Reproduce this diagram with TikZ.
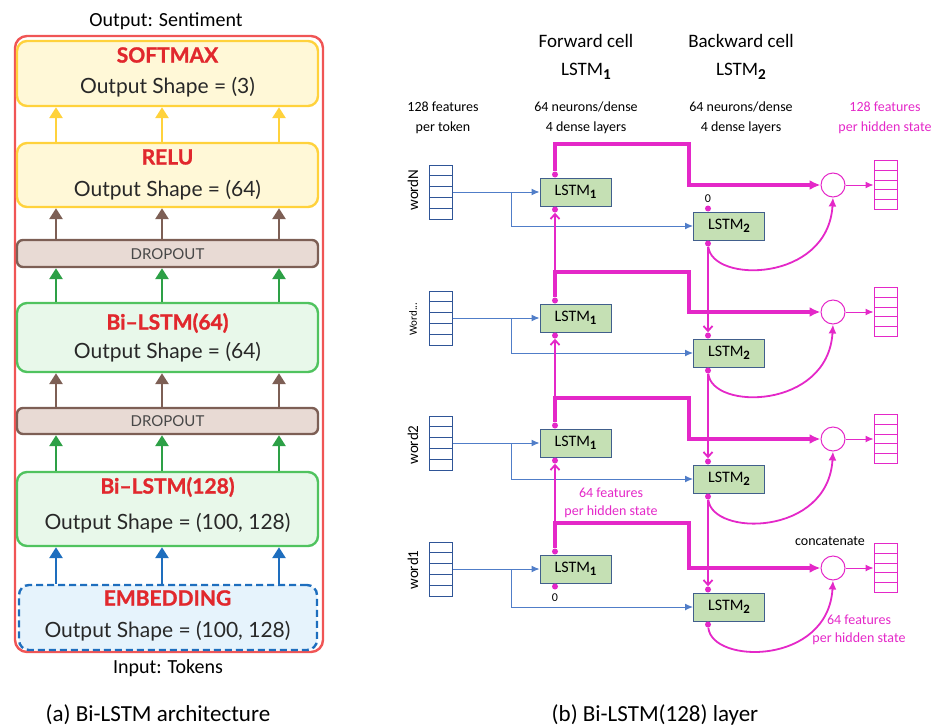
\documentclass[tikz,border=0pt]{standalone}
\usepackage{fontspec}
\setmainfont{Carlito}
\newfontfamily\lpfont{Lato}
\newfontfamily\lphd{Lato}[BoldFeatures={FakeBold=1.2}]
\usetikzlibrary{arrows.meta,calc}
\definecolor{mag}{RGB}{228,40,200}
\definecolor{lblue}{RGB}{80,125,200}
\definecolor{dblue}{RGB}{47,85,151}
\definecolor{lfill}{RGB}{197,224,180}
\definecolor{lborder}{RGB}{65,95,140}
\definecolor{outred}{RGB}{240,85,85}
\definecolor{hred}{RGB}{225,40,45}
\definecolor{ybord}{RGB}{255,210,60}
\definecolor{yfill}{RGB}{255,248,215}
\definecolor{bbord}{RGB}{125,95,85}
\definecolor{bfill}{RGB}{232,218,212}
\definecolor{gbord}{RGB}{80,195,95}
\definecolor{gfill}{RGB}{232,248,234}
\definecolor{garr}{RGB}{45,160,70}
\definecolor{ebord}{RGB}{30,110,190}
\definecolor{efill}{RGB}{230,243,252}
\definecolor{txt}{RGB}{40,40,40}
\newcommand\lsub[1]{\raisebox{-0.4ex}{\scalebox{0.8}{\bfseries #1}}}
\begin{document}
\begin{tikzpicture}[x=1pt,y=-1pt,
  layer/.style={draw, rounded corners=10pt, line width=2.4pt, minimum width=301pt, inner sep=0pt},
  hd/.style={font=\lphd\bfseries\fontsize{21}{24}\selectfont, text=hred, inner sep=0pt},
  osh/.style={font=\lpfont\fontsize{21}{24}\selectfont, text=txt, inner sep=0pt},
  dtxt/.style={font=\lpfont\fontsize{15}{18}\selectfont, text=txt!85, inner sep=0pt},
  larr/.style={line width=2.8pt, -{Triangle[length=11pt,width=13pt]}},
  lstm/.style={draw=lborder, fill=lfill, line width=1pt, minimum width=71pt, minimum height=28pt, inner sep=0pt, font=\fontsize{16}{18}\selectfont},
  vecbox/.style={draw=#1, line width=1pt, inner sep=0pt, minimum width=23pt,
    path picture={\foreach \k in {1,2,3,4}{\draw[#1, line width=1pt] ($(path picture bounding box.north west)!\k/5!(path picture bounding box.south west)$) -- ($(path picture bounding box.north east)!\k/5!(path picture bounding box.south east)$);}}},
  dot/.style={circle, fill=mag, inner sep=0pt, minimum size=6pt},
  blu/.style={lblue, line width=1pt, -{Latex[length=8pt,width=7pt]}},
  thk/.style={mag, line width=3.5pt, -{Latex[length=11pt,width=10pt]}},
  med/.style={mag, line width=1.8pt},
  barb/.style={-{Straight Barb[length=5pt,width=9pt]}},
  thn/.style={mag, line width=1pt, -{Latex[length=8pt,width=7pt]}},
  hdr/.style={align=center, font=\fontsize{19}{28}\selectfont, inner sep=0pt},
  subtxt/.style={align=center, font=\fontsize{14}{20}\selectfont, inner sep=0pt},
  mtxt/.style={align=center, font=\fontsize{14}{18}\selectfont, text=mag, inner sep=0pt},
  captxt/.style={font=\fontsize{23}{26}\selectfont, inner sep=0pt},
  iotxt/.style={font=\fontsize{20}{24}\selectfont, inner sep=0pt}
]
\useasboundingbox (0,0) rectangle (937,728);
% ---------- left panel ----------
\node[draw=outred, line width=2.4pt, rounded corners=12pt, minimum width=308pt, minimum height=616pt, inner sep=0pt] (outer) at (169,344) {};
\node[layer, draw=ybord, fill=yfill, minimum height=65pt] (sm) at (167.5,73.5) {};
\node[layer, draw=ybord, fill=yfill, minimum height=64pt] (relu) at (167.5,175) {};
\node[layer, draw=bbord, fill=bfill, minimum height=27pt, rounded corners=6pt] (dr1) at (167.5,253.5) {};
\node[layer, draw=gbord, fill=gfill, minimum height=69pt] (b64) at (167.5,337.5) {};
\node[layer, draw=bbord, fill=bfill, minimum height=26pt, rounded corners=6pt] (dr2) at (167.5,421) {};
\node[layer, draw=gbord, fill=gfill, minimum height=74pt] (b128) at (167.5,509) {};
\node[layer, draw=ebord, fill=efill, minimum height=65pt, minimum width=298pt, dash pattern=on 7pt off 4pt] (emb) at (168,617.5) {};

\node[hd] (t1) at (167.5,55) {SOFTMAX};
\node[osh] (t2) at (167.5,87) {Output Shape = (3)};
\node[hd] (t3) at (167.5,157) {RELU};
\node[osh] (t4) at (167.5,190) {Output Shape = (64)};
\node[dtxt] (t5) at (167.5,254) {DROPOUT};
\node[hd] (t6) at (167.5,323) {Bi–LSTM(64)};
\node[osh] (t7) at (167.5,352) {Output Shape = (64)};
\node[dtxt] (t8) at (167.5,421) {DROPOUT};
\node[hd] (t9) at (167.5,487) {Bi–LSTM(128)};
\node[osh] (t10) at (167.5,523) {Output Shape = (100, 128)};
\node[hd] (t11) at (167.5,598) {EMBEDDING};
\node[osh] (t12) at (167.5,631) {Output Shape = (100, 128)};

\coordinate (ca) at (56,0);
\coordinate (cb) at (162,0);
\coordinate (cc) at (279,0);
\foreach \c in {ca,cb,cc}{
  \draw[larr, draw=ybord, fill=ybord] (relu.north -| \c) -- (sm.south -| \c);
  \draw[larr, draw=bbord, fill=bbord] (dr1.north -| \c) -- (relu.south -| \c);
  \draw[larr, draw=garr, fill=garr] (b64.north -| \c) -- (dr1.south -| \c);
  \draw[larr, draw=bbord, fill=bbord] (dr2.north -| \c) -- (b64.south -| \c);
  \draw[larr, draw=garr, fill=garr] (b128.north -| \c) -- (dr2.south -| \c);
  \draw[larr, draw=ebord, fill=ebord] (emb.north -| \c) -- (b128.south -| \c);
}
\node[iotxt] (outl) at (166,21) {Output: Sentiment};
\node[iotxt] (inl) at (168,668) {Input: Tokens};
\node[captxt] (capa) at (158,715) {(a) Bi-LSTM architecture};
\node[captxt] (capb) at (655,715) {(b) Bi-LSTM(128) layer};

% ---------- right panel ----------
\node[hdr] (h1) at (586,57) {Forward cell\\LSTM\lsub{1}};
\node[hdr] (h2) at (741,57) {Backward cell\\LSTM\lsub{2}};
\node[subtxt] (s1) at (443,118) {128 features\\per token};
\node[subtxt] (s2) at (586,118) {64 neurons/dense\\4 dense layers};
\node[subtxt] (s3) at (741,118) {64 neurons/dense\\4 dense layers};
\node[subtxt, text=mag] (s4) at (885,118) {128 features\\per hidden state};

\coordinate (br) at (511,0);
\foreach \r/\ya/\yb/\T/\H in {1/192/226/144/185, 2/318/353/272/312, 3/443/479/398/439, 4/569/607/523/568}{
  \node[lstm] (A\r) at (575.5,\ya) {LSTM\lsub{1}};
  \node[lstm] (B\r) at (729,\yb) {LSTM\lsub{2}};
  \node[vecbox=dblue, minimum height=54pt] (W\r) at (440.5,\ya) {};
  \node[circle, draw=mag, line width=1pt, minimum size=24pt, inner sep=0pt] (C\r) at (833,\H) {};
  \node[vecbox=mag, minimum height=49pt] (O\r) at (885.5,\H) {};
  \node[dot] (At\r) at ([xshift=-20.5pt,yshift=3pt]A\r.north) {};
  \node[dot] (Ab\r) at ([xshift=-20.5pt,yshift=-3pt]A\r.south) {};
  \node[dot] (Bt\r) at ([xshift=-21pt,yshift=3pt]B\r.north) {};
  \node[dot] (Bb\r) at ([xshift=-21pt,yshift=-3pt]B\r.south) {};
  \coordinate (J\r) at (689,\T);
  \draw[blu] (W\r.east) -- (A\r.west);
  \draw[blu] (W\r.east -| br) |- (B\r.west);
  \draw[thk] (At\r) |- (J\r) |- (C\r.west);
  \draw[thn] (C\r.east) -- (O\r.west);
  \draw[med, -{Latex[length=9pt,width=8pt]}] (Bb\r) .. controls +(4,40) and +(-5,85) .. (C\r.south);
}
\foreach \r/\s in {1/2,2/3,3/4}{
  \draw[med, barb] (At\s) -- (Ab\r);
  \draw[med, barb] (Bb\r) -- (Bt\s);
}
\node[font=\fontsize{15}{18}\selectfont, rotate=90] (L1) at (413,190) {wordN};
\node[font=\fontsize{11}{13}\selectfont, rotate=90] (L2) at (413,319) {Word...};
\node[font=\fontsize{15}{18}\selectfont, rotate=90] (L3) at (413,445) {word2};
\node[font=\fontsize{15}{18}\selectfont, rotate=90] (L4) at (413,570) {word1};
\node[font=\fontsize{12}{14}\selectfont] (z1) at ([yshift=10pt]Bt1) {0};
\node[font=\fontsize{12}{14}\selectfont] (z2) at ([yshift=-11pt]Ab4) {0};
\node[font=\fontsize{14}{16}\selectfont] (cat) at (830,541) {concatenate};
\node[mtxt] (m1) at (611,503) {64 features\\per hidden state};
\node[mtxt] (m2) at (859,630) {64 features\\per hidden state};
\end{tikzpicture}
\end{document}
